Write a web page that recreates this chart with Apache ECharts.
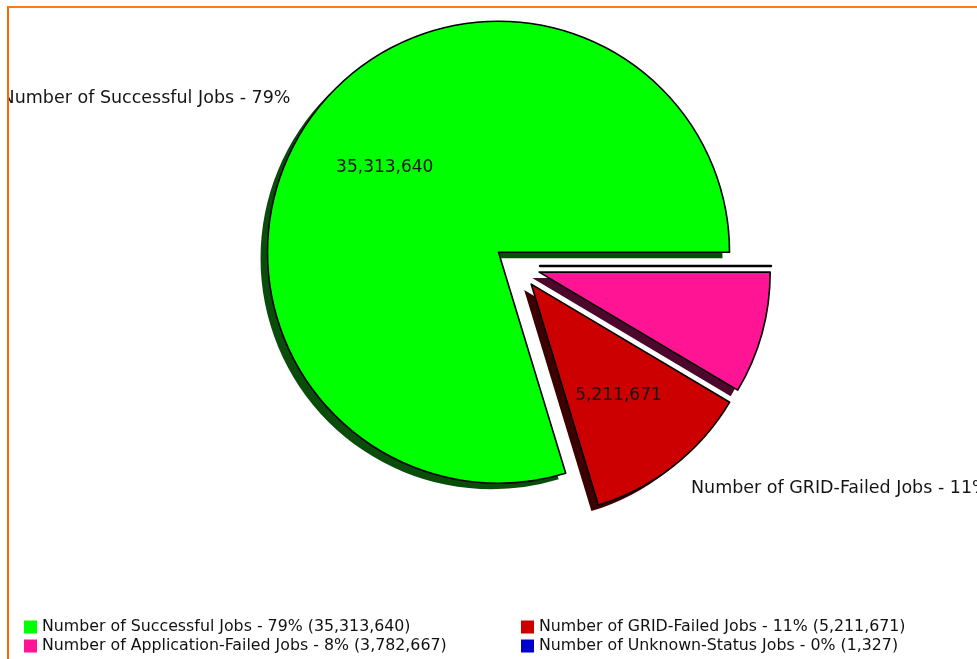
<!DOCTYPE html>
<html>
<head>
<meta charset="utf-8">
<script src="https://cdn.jsdelivr.net/npm/echarts@6/dist/echarts.min.js"></script>
<style>
  html, body { margin: 0; padding: 0; background: #ffffff; }
  #frame { position: absolute; left: 7px; top: 6px; width: 980px; height: 660px;
           border-left: 2px solid #ff6600; border-top: 2px solid #ff7a1a; overflow: hidden; }
  #chart { position: absolute; left: -1px; top: 0; width: 969px; height: 653px; }
</style>
</head>
<body>
<div id="frame"><div id="chart"></div></div>
<script>
// ---- data ----
const categories = [
  'Number of Successful Jobs',
  'Number of GRID-Failed Jobs',
  'Number of Application-Failed Jobs',
  'Number of Unknown-Status Jobs'
];
const values = [35313640, 5211671, 3782667, 1327];
const percentLabels = ['79%', '11%', '8%', '0%'];
const showSliceLabels = [true, true, false, false];

// ---- styles ----
const colors = ['#00ff00', '#cc0000', '#ff1493', '#0000cc'];
const shadowColors = ['#0a4d0a', '#3d0000', '#4d062c', '#00003d'];
const borderWidths = [1.6, 1.6, 1.6, 2.4];
const fontFamily = 'DejaVu Sans, sans-serif';

const fmt = v => v.toLocaleString('en-US');
const pctOf = name => percentLabels[categories.indexOf(name)];
const valOf = name => values[categories.indexOf(name)];

const chart = echarts.init(document.getElementById('chart'), null, { renderer: 'canvas' });

const center = [509, 258];
const radius = 231;
const explode = 23;

const pieBase = {
  type: 'pie',
  center: center,
  radius: radius,
  startAngle: 0,
  clockwise: false,
  selectedMode: 'multiple',
  selectedOffset: explode,
  avoidLabelOverlap: false,
  silent: true,
  emphasis: { disabled: true, scale: false }
};

// shadow-casting fills (no border, so the border casts no shadow)
const shadowData = categories.map((c, i) => ({
  name: c,
  value: values[i],
  selected: true,
  itemStyle: {
    color: colors[i],
    borderWidth: 0,
    shadowColor: shadowColors[i],
    shadowBlur: 0,
    shadowOffsetX: -7,
    shadowOffsetY: 6
  }
}));

// visible slices with black edges and outer labels
const mainData = categories.map((c, i) => ({
  name: c,
  value: values[i],
  selected: true,
  itemStyle: {
    color: colors[i],
    borderColor: '#000',
    borderWidth: borderWidths[i]
  },
  label: { show: showSliceLabels[i] }
}));

// invisible larger pie carrying value labels at 0.6 r
const innerData = categories.map((c, i) => ({
  name: c,
  value: values[i],
  selected: true,
  itemStyle: { color: 'rgba(0,0,0,0)', borderWidth: 0 },
  label: { show: showSliceLabels[i] }
}));

const legendCommon = {
  orient: 'vertical',
  padding: 0,
  itemWidth: 13,
  itemHeight: 13,
  itemGap: 3,
  icon: 'rect',
  selectedMode: false,
  textStyle: { fontFamily: fontFamily, fontSize: 15.8, color: '#111' },
  itemStyle: { borderWidth: 0, shadowBlur: 0, shadowOffsetX: 0, shadowOffsetY: 0, shadowColor: 'rgba(0,0,0,0)' },
  formatter: name => name + ' - ' + pctOf(name) + ' (' + fmt(valOf(name)) + ')'
};

chart.setOption({
  animation: false,
  backgroundColor: '#ffffff',
  legend: [
    Object.assign({}, legendCommon, { left: 16, top: 611, data: [categories[0], categories[2]] }),
    Object.assign({}, legendCommon, { left: 513, top: 611, data: [categories[1], categories[3]] })
  ],
  series: [
    Object.assign({}, pieBase, {
      label: { show: false },
      labelLine: { show: false },
      data: shadowData
    }),
    Object.assign({}, pieBase, {
      label: {
        position: 'outside',
        fontFamily: fontFamily,
        fontSize: 17.5,
        color: '#151515',
        distanceToLabelLine: 0,
        overflow: 'none',
        alignTo: 'none',
        bleedMargin: 0,
        formatter: p => p.name + ' - ' + pctOf(p.name)
      },
      labelLine: { show: false, length: 28, length2: 0 },
      data: mainData
    }),
    Object.assign({}, pieBase, {
      radius: radius * 1.2,
      label: {
        position: 'inside',
        fontFamily: fontFamily,
        fontSize: 17,
        color: '#151515',
        formatter: p => fmt(p.value)
      },
      labelLine: { show: false },
      data: innerData
    })
  ]
});
</script>
</body>
</html>
